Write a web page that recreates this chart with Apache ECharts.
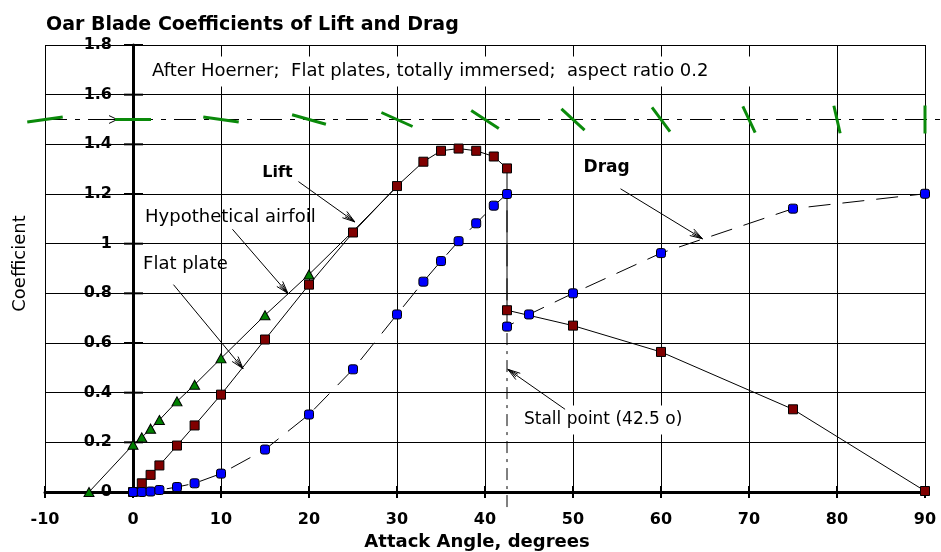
<!DOCTYPE html>
<html><head><meta charset="utf-8">
<script src="https://cdn.jsdelivr.net/npm/echarts@6/dist/echarts.min.js"></script>
<style>html,body{margin:0;padding:0;background:#fff}#c{width:941px;height:552px}</style>
</head><body><div id="c"></div>
<script>
// ---------------- data ----------------
const titleText = 'Oar Blade Coefficients of Lift and Drag';
const xName = 'Attack Angle, degrees';
const yName = 'Coefficient';
const xTicks = [-10, 0, 10, 20, 30, 40, 50, 60, 70, 80, 90];
const yTicks = [0, 0.2, 0.4, 0.6, 0.8, 1, 1.2, 1.4, 1.6, 1.8];
const yTickLabels = ['0', '0.2', '0.4', '0.6', '0.8', '1', '1.2', '1.4', '1.6', '1.8'];

// Hypothetical airfoil lift (green triangles); last two points are line-only
const airfoilX = [-5, 0, 1, 2, 3, 5, 7, 10, 15, 20, 25, 30];
const airfoilY = [0, 0.19, 0.22, 0.255, 0.29, 0.365, 0.432, 0.538, 0.712, 0.876, 1.05, 1.23];
const airfoilNoMarker = [25, 30];

// Flat plate lift (dark red squares)
const liftX = [0, 1, 2, 3, 5, 7, 10, 15, 20, 25, 30, 33, 35, 37, 39, 41, 42.5, 42.5, 50, 60, 75, 90];
const liftY = [0, 0.035, 0.069, 0.107, 0.187, 0.268, 0.392, 0.614, 0.835, 1.045, 1.232, 1.33, 1.374, 1.383, 1.374, 1.351, 1.303, 0.732, 0.67, 0.564, 0.333, 0.004];

// Flat plate drag (blue)
const dragX = [0, 1, 2, 3, 5, 7, 10, 15, 20, 25, 30, 33, 35, 37, 39, 41, 42.5, 42.5, 45, 50, 60, 75, 90];
const dragY = [0, 0, 0.002, 0.008, 0.02, 0.035, 0.074, 0.171, 0.312, 0.494, 0.715, 0.847, 0.93, 1.01, 1.082, 1.153, 1.2, 0.666, 0.715, 0.80, 0.962, 1.141, 1.201];

// Blade orientation sketches along the flow line
const bladeAngles = [-10, 0, 10, 20, 30, 40, 50, 60, 70, 80, 90];
const flowLevel = 1.5;
const stallAngle = 42.5;

// annotation texts
const noteTexts = ['After Hoerner;  Flat plates, totally immersed;  aspect ratio 0.2', 'Lift', 'Hypothetical airfoil', 'Flat plate', 'Drag', 'Stall point (42.5 o)'];

// ---------------- layout / style (not data) ----------------
const FONT = '"DejaVu Sans", Verdana, sans-serif';
const noteLayout = [
  {at: [1.93, 1.693], bold: false, bg: true, size: 18},
  {at: [14.7, 1.287], bold: true, size: 16},
  {at: [1.37, 1.105], bold: false, size: 18},
  {at: [1.14, 0.916], bold: false, size: 18},
  {at: [51.2, 1.307], bold: true, size: 17},
  {at: [44.2, 0.29], bold: false, bg: true, size: 17}
];
const arrowLayout = [
  {from: [18.8, 1.25], to: [25.2, 1.088]},
  {from: [11.3, 1.058], to: [17.6, 0.80]},
  {from: [4.6, 0.835], to: [12.5, 0.497]},
  {from: [55.4, 1.221], to: [64.7, 1.02]},
  {from: [49.1, 0.333], to: [42.6, 0.494]}
];

const zip = (a, b) => a.map((v, i) => [v, b[i]]);

function arrowHead(tip, from, len, ang) {
  const a = Math.atan2(from[1] - tip[1], from[0] - tip[0]);
  return [a + ang, a - ang].map(t => ({
    type: 'line',
    shape: {x1: tip[0], y1: tip[1], x2: tip[0] + len * Math.cos(t), y2: tip[1] + len * Math.sin(t)},
    style: {stroke: '#000', lineWidth: 1}
  }));
}

const chart = echarts.init(document.getElementById('c'), null, {renderer: 'canvas'});

const option = {
  animation: false,
  backgroundColor: '#fff',
  title: {
    text: titleText, left: 41, top: 11,
    textStyle: {fontFamily: FONT, fontWeight: 'bold', fontSize: 19, color: '#000'}
  },
  grid: {left: 45, right: 16, top: 45, bottom: 60, containLabel: false, outerBoundsMode: 'none'},
  xAxis: {
    type: 'value', min: -10, max: 90, interval: 10,
    name: xName, nameLocation: 'middle', nameGap: 41,
    nameTextStyle: {fontFamily: FONT, fontWeight: 'bold', fontSize: 18, color: '#000', padding: [0, 16, 0, 0]},
    axisLine: {onZero: true, lineStyle: {color: '#000', width: 3}},
    axisTick: {show: false},
    splitLine: {show: true, lineStyle: {color: '#000', width: 1}},
    axisLabel: {margin: 20, fontFamily: FONT, fontWeight: 'bold', fontSize: 16, color: '#000'}
  },
  yAxis: {
    type: 'value', min: 0, max: 1.8, interval: 0.2,
    name: yName, nameLocation: 'middle', nameGap: 16, nameRotate: 90,
    nameTextStyle: {fontFamily: FONT, fontSize: 18, color: '#000', padding: [0, 0, 0, 10]},
    axisLine: {onZero: true, lineStyle: {color: '#000', width: 3}},
    axisTick: {show: false},
    splitLine: {show: true, lineStyle: {color: '#000', width: 1}},
    axisLabel: {show: false}
  },
  series: [
    {
      name: 'Hypothetical airfoil', type: 'line', silent: true, z: 3, clip: false,
      data: zip(airfoilX, airfoilY).map(p => airfoilNoMarker.includes(p[0]) ? {value: p, symbol: 'none'} : p),
      symbol: 'triangle', symbolSize: [10, 9], showAllSymbol: true,
      lineStyle: {color: '#000', width: 1},
      itemStyle: {color: '#008000', borderColor: '#000', borderWidth: 1}
    },
    {
      name: 'Flat plate lift', type: 'line', silent: true, z: 4, clip: false,
      data: zip(liftX, liftY),
      symbol: 'rect', symbolSize: 9, showAllSymbol: true,
      lineStyle: {color: '#000', width: 1},
      itemStyle: {color: '#800000', borderColor: '#000', borderWidth: 1}
    },
    {
      name: 'Flat plate drag', type: 'line', silent: true, z: 4, clip: false,
      data: zip(dragX, dragY),
      symbol: 'roundRect', symbolSize: 9, showAllSymbol: true,
      lineStyle: {color: '#000', width: 1, type: [22, 12]},
      itemStyle: {color: '#0000ff', borderColor: '#000', borderWidth: 1}
    },
    {
      name: 'blades', type: 'custom', silent: true, z: 5, clip: false,
      data: bladeAngles.map(a => [a, flowLevel]),
      renderItem(params, api) {
        const a = api.value(0);
        const c = api.coord([a, api.value(1)]);
        const r = a * Math.PI / 180;
        const hx = 18 * Math.cos(r), hy = 14 * Math.sin(r);
        return {type: 'line', shape: {x1: c[0] - hx, y1: c[1] - hy, x2: c[0] + hx, y2: c[1] + hy},
          style: {stroke: '#0a8a0a', lineWidth: 3}};
      }
    },
    {
      name: 'furniture', type: 'custom', silent: true, z: 2, clip: false,
      data: [[0, 0]],
      renderItem(params, api) {
        const ch = [];
        // flow line (dash-dot) at flowLevel
        const f0 = api.coord([xTicks[0], flowLevel]);
        ch.push({type: 'line', shape: {x1: f0[0], y1: f0[1], x2: api.getWidth(), y2: f0[1]},
          style: {stroke: '#000', lineWidth: 1, lineDash: [22, 8, 5, 8]}});
        // flow arrow
        const fa = api.coord([-4.5, flowLevel]), fb = api.coord([-1.8, flowLevel]);
        ch.push({type: 'line', shape: {x1: fa[0], y1: fa[1], x2: fb[0], y2: fb[1]}, style: {stroke: '#000', lineWidth: 1}});
        ch.push(...arrowHead(fb, fa, 9, 0.45));
        // stall line (dash-dot, vertical)
        const s0 = api.coord([stallAngle, 0.64]), s1 = api.coord([stallAngle, 0]);
        ch.push({type: 'line', shape: {x1: s0[0], y1: s0[1], x2: s1[0], y2: s1[1] + 18},
          style: {stroke: '#000', lineWidth: 1, lineDash: [12, 6, 3, 6]}});
        // crossing ticks
        xTicks.forEach(v => {
          const p = api.coord([v, 0]);
          ch.push({type: 'line', shape: {x1: p[0], y1: p[1] - 6, x2: p[0], y2: p[1] + 6}, style: {stroke: '#000', lineWidth: 2}});
        });
        yTicks.forEach((v, i) => {
          const p = api.coord([0, v]);
          ch.push({type: 'line', shape: {x1: p[0] - 9, y1: p[1], x2: p[0] + 10, y2: p[1]}, style: {stroke: '#000', lineWidth: 2}});
          ch.push({type: 'text', x: p[0] - 21, y: p[1], z2: 5,
            style: {text: yTickLabels[i], fontFamily: 'DejaVu Sans', fontWeight: 'bold', fontSize: 16, fill: '#000', align: 'right', verticalAlign: 'middle'}});
        });
        return {type: 'group', children: ch};
      }
    },
    {
      name: 'notes', type: 'custom', silent: true, z: 6, clip: false,
      data: [[0, 0]],
      renderItem(params, api) {
        const ch = [];
        noteTexts.forEach((t, i) => {
          const L = noteLayout[i];
          const p = api.coord(L.at);
          const st = {text: t, fontFamily: 'DejaVu Sans', fontSize: L.size, fontWeight: L.bold ? 'bold' : 'normal',
            fill: '#000', align: 'left', verticalAlign: 'middle'};
          if (L.bg) { st.backgroundColor = '#fff'; st.padding = [6, i === 0 ? 45 : 6, 6, 2]; }
          ch.push({type: 'text', x: p[0], y: p[1], style: st});
        });
        arrowLayout.forEach(A => {
          const a = api.coord(A.from), b = api.coord(A.to);
          ch.push({type: 'line', shape: {x1: a[0], y1: a[1], x2: b[0], y2: b[1]}, style: {stroke: '#000', lineWidth: 1}});
          ch.push(...arrowHead(b, a, 13, 0.3));
          ch.push(...arrowHead(b, a, 11, 0.15));
        });
        return {type: 'group', children: ch};
      }
    }
  ]
};
chart.setOption(option);
</script>
</body></html>
